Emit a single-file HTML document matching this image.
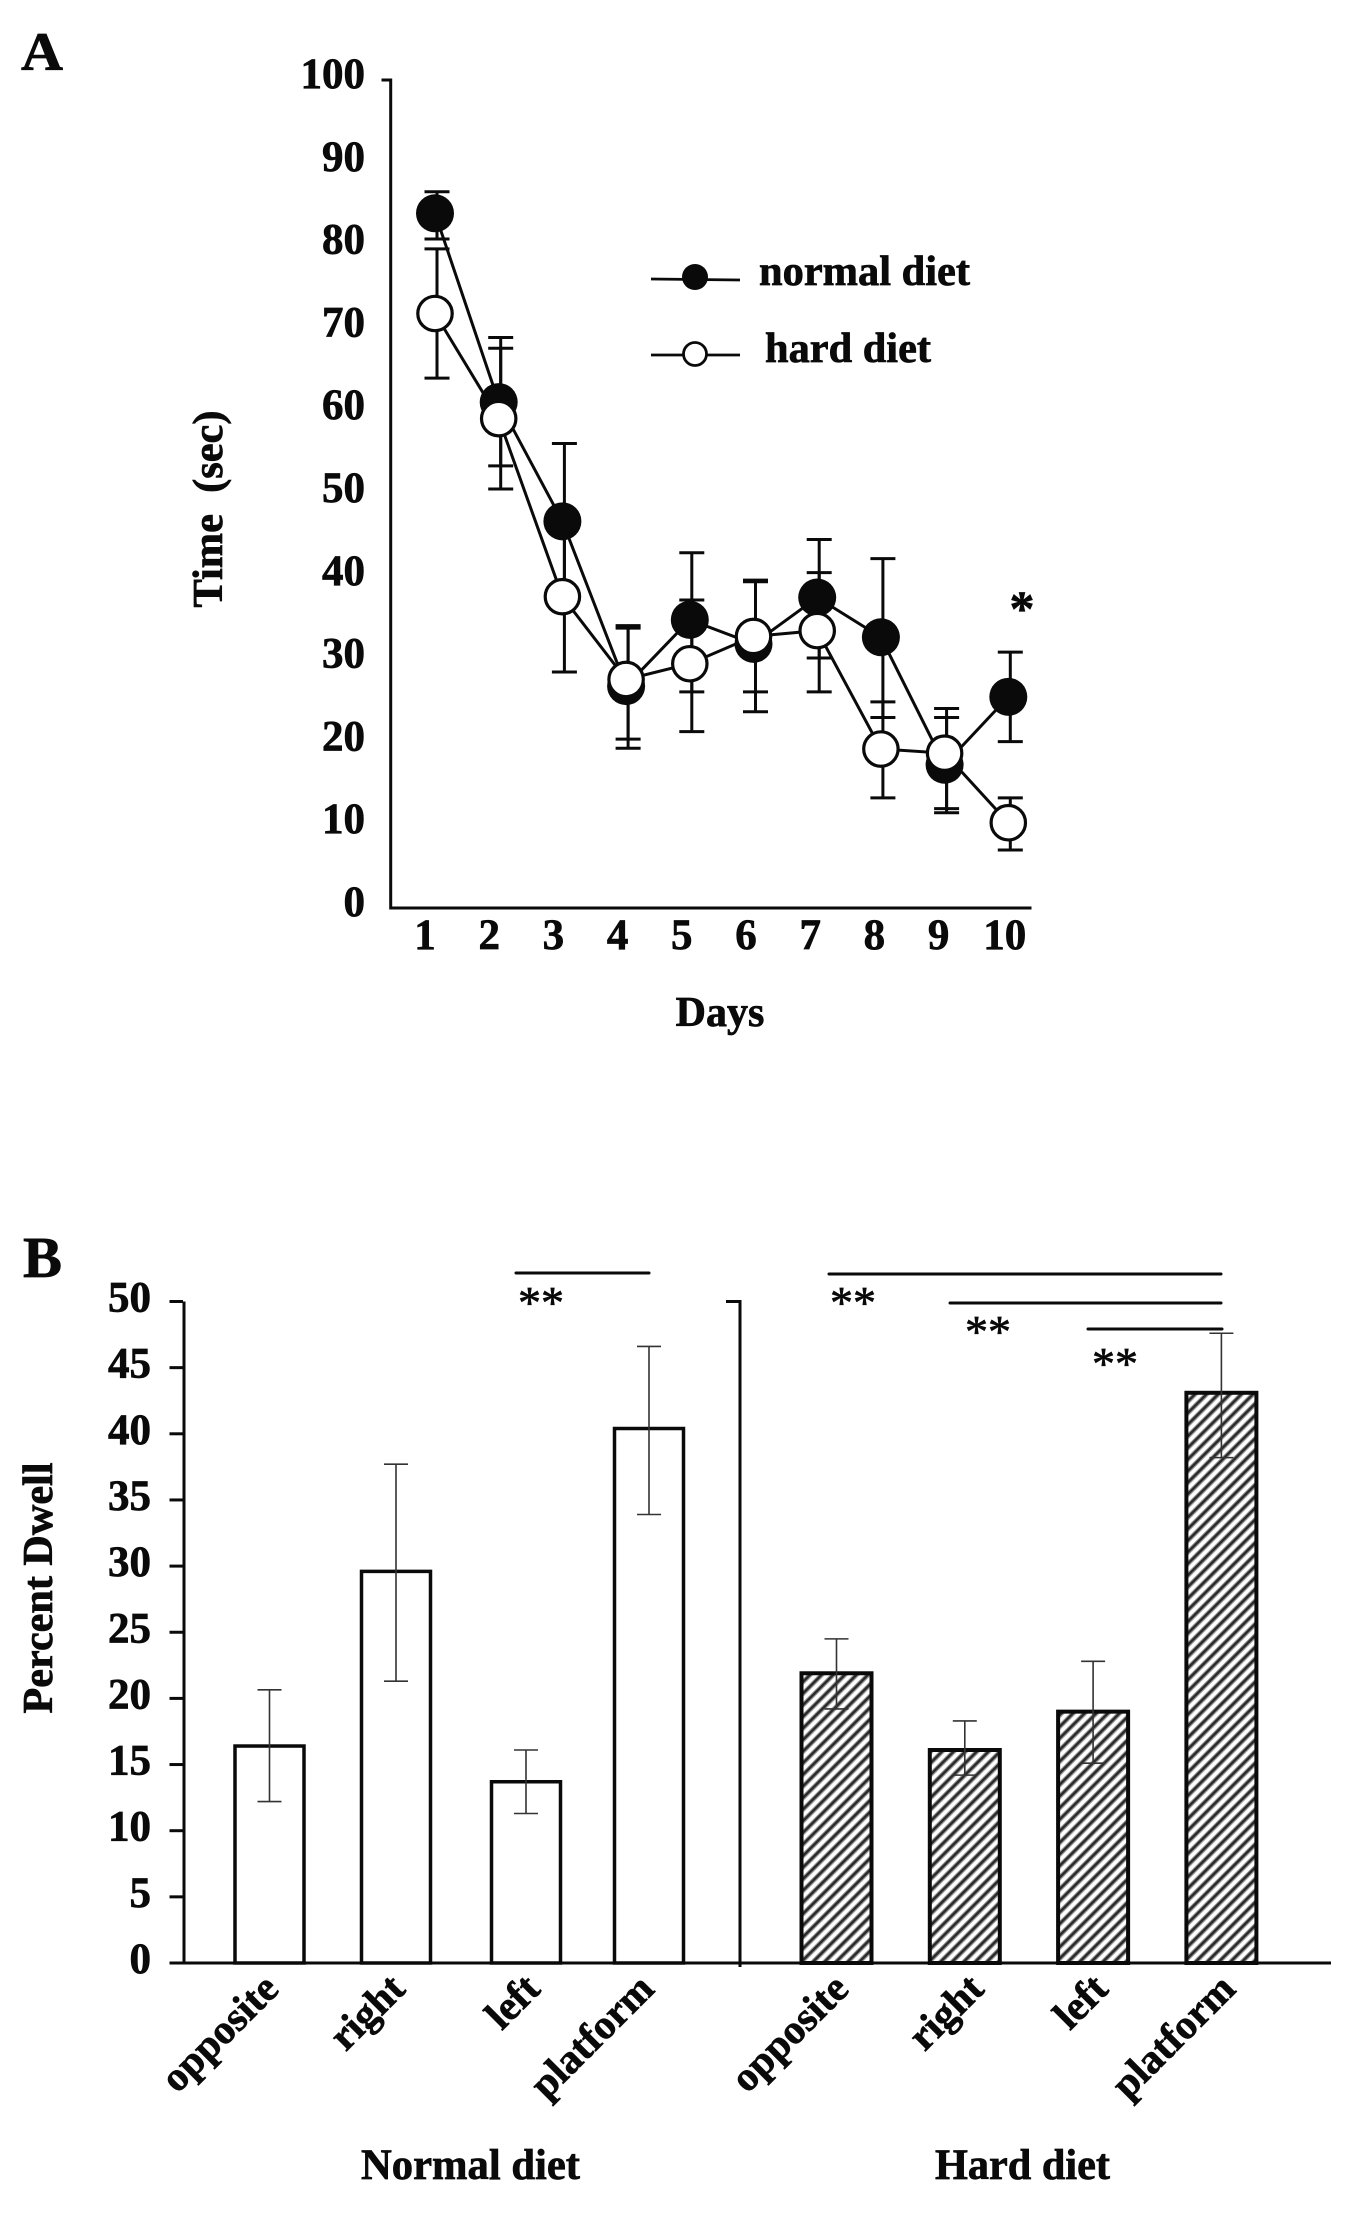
<!DOCTYPE html>
<html lang="en">
<head>
<meta charset="utf-8">
<title>Time and percent dwell, normal vs hard diet</title>
<style>
html,body{margin:0;padding:0;background:#fff;}
svg{display:block;}
text{font-family:"Liberation Serif",serif;font-weight:bold;fill:#0a0a0a;stroke:#0a0a0a;stroke-width:0.7px;}
</style>
</head>
<body>
<svg id="fig" xmlns="http://www.w3.org/2000/svg" width="1364" height="2213" viewBox="0 0 1364 2213">
  <defs>
    <pattern id="hatch" patternUnits="userSpaceOnUse" width="8.2" height="8.2" patternTransform="rotate(45)">
      <rect width="8.2" height="8.2" fill="#fff"/>
      <rect x="0" y="0" width="1" height="8.2" fill="#999"/>
      <rect x="1" y="0" width="2.7" height="8.2" fill="#2a2a2a"/>
      <rect x="3.7" y="0" width="1" height="8.2" fill="#999"/>
    </pattern>
  </defs>
  <rect width="1364" height="2213" fill="#fff"/>

  <text x="21" y="70" font-size="54" textLength="42" lengthAdjust="spacingAndGlyphs">A</text>
  <text x="23" y="1277" font-size="58" textLength="39" lengthAdjust="spacingAndGlyphs">B</text>

  <g id="panelA"></g>
  <text transform="rotate(-90 222 509)" x="222" y="509" font-size="42" text-anchor="middle" textLength="197" lengthAdjust="spacingAndGlyphs" xml:space="preserve">Time  (sec)</text>
  <text x="720" y="1026" font-size="42" text-anchor="middle">Days</text>

  <g>
    <line x1="651" y1="279" x2="740" y2="280" stroke="#0a0a0a" stroke-width="2.8"/>
    <circle cx="695" cy="277" r="13" fill="#0a0a0a"/>
    <text x="759" y="285" font-size="42" textLength="211" lengthAdjust="spacingAndGlyphs">normal diet</text>
    <line x1="651" y1="355" x2="740" y2="355" stroke="#0a0a0a" stroke-width="2.8"/>
    <circle cx="695" cy="354" r="11.5" fill="#fff" stroke="#0a0a0a" stroke-width="2.8"/>
    <text x="765" y="362" font-size="42" textLength="166" lengthAdjust="spacingAndGlyphs">hard diet</text>
  </g>
  <text x="1022" y="625" font-size="50" text-anchor="middle">*</text>

  <g id="panelB"></g>
  <text transform="rotate(-90 52 1588)" x="52" y="1588" font-size="42" text-anchor="middle" textLength="251" lengthAdjust="spacingAndGlyphs">Percent Dwell</text>
  <text x="361" y="2179" font-size="43" textLength="219" lengthAdjust="spacingAndGlyphs">Normal diet</text>
  <text x="935" y="2179" font-size="43" textLength="175" lengthAdjust="spacingAndGlyphs">Hard diet</text>

  <g>
    <line x1="519" y1="1281" x2="652" y2="1281" stroke="#0a0a0a" stroke-width="3" stroke-linecap="round" transform="translate(-3 -8)"/>
    <text x="541" y="1318" font-size="46" style="font-weight:normal" text-anchor="middle">**</text>
    <line x1="829" y1="1274" x2="1221" y2="1274" stroke="#0a0a0a" stroke-width="3" stroke-linecap="round"/>
    <text x="853" y="1318" font-size="46" style="font-weight:normal" text-anchor="middle">**</text>
    <line x1="950" y1="1303" x2="1221" y2="1303" stroke="#0a0a0a" stroke-width="3" stroke-linecap="round"/>
    <text x="988" y="1347" font-size="46" style="font-weight:normal" text-anchor="middle">**</text>
    <line x1="1088" y1="1329" x2="1222" y2="1329" stroke="#0a0a0a" stroke-width="3" stroke-linecap="round"/>
    <text x="1115" y="1379" font-size="46" style="font-weight:normal" text-anchor="middle">**</text>
  </g>
</svg>
<script>
// Panel A data
const days = [1, 2, 3, 4, 5, 6, 7, 8, 9, 10];
const timeTicks = [0, 10, 20, 30, 40, 50, 60, 70, 80, 90, 100];
const normalTime = [83.9, 61.1, 46.7, 26.8, 34.8, 31.9, 37.5, 32.7, 17.3, 25.5];
const normalTimeUpper = [86.5, 68.9, 56.1, 34.1, 42.9, 39.4, 44.5, 42.2, 23.0, 30.9];
const normalTimeLower = [80.8, 53.4, 37.3, 19.3, 26.1, 23.7, 30.2, 23.0, 11.5, 20.1];
const hardTime = [71.8, 59.1, 37.6, 27.6, 29.5, 32.8, 33.5, 19.2, 18.7, 10.3];
const hardTimeUpper = [79.6, 67.6, 46.6, 33.8, 37.2, 39.6, 40.5, 24.9, 24.1, 13.3];
const hardTimeLower = [64.0, 50.6, 28.5, 20.4, 21.3, 26.1, 26.1, 13.3, 12.0, 7.0];

// Panel B data
const quadrants = ["opposite", "right", "left", "platform"];
const dwellTicks = [0, 5, 10, 15, 20, 25, 30, 35, 40, 45, 50];
const normalDwell = [16.4, 29.6, 13.7, 40.4];
const normalDwellUpper = [20.65, 37.7, 16.1, 46.6];
const normalDwellLower = [12.2, 21.3, 11.3, 33.9];
const hardDwell = [21.9, 16.1, 19.0, 43.1];
const hardDwellUpper = [24.5, 18.3, 22.8, 47.6];
const hardDwellLower = [19.2, 14.2, 15.1, 38.2];

const NS = "http://www.w3.org/2000/svg";
const INK = "#0a0a0a";

function mk(parent, tag, attrs, txt) {
  const el = document.createElementNS(NS, tag);
  for (const k in attrs) el.setAttribute(k, attrs[k]);
  if (txt !== undefined) el.textContent = txt;
  parent.appendChild(el);
  return el;
}

/* ---------- Panel A ---------- */
const gA = document.getElementById("panelA");
const xA = d => 435 + (d - 1) * 63.7;
const yA = v => 908 - v * 8.28;
const xALabel = d => 425 + (d - 1) * 64.2 + (d === 10 ? 2 : 0);

let axisA = mk(gA, "path", {
  d: "M381.5 " + yA(100) + "H390.7V" + yA(0) + "H1031.5",
  fill: "none", stroke: INK, "stroke-width": 3
});



timeTicks.forEach(t => {
  const el = mk(gA, "text", { x: 365, y: yA(t) + 8, "font-size": 43, "text-anchor": "end" }, String(t));
  
  
});
days.forEach(d => {
  const el = mk(gA, "text", { x: xALabel(d), y: 949, "font-size": 43, "text-anchor": "middle" }, String(d));
  
  
});

function drawSeries(name, means, upper, lower, filled) {
  const g = mk(gA, "g", {});
  
  
  days.forEach((d, i) => {
    const x = xA(d) + 2;
    const cap = 12.5;
    const err = mk(g, "path", {
      d: "M" + x + " " + yA(upper[i]) + "V" + yA(lower[i]) +
         "M" + (x - cap) + " " + yA(upper[i]) + "h" + (2 * cap) +
         "M" + (x - cap) + " " + yA(lower[i]) + "h" + (2 * cap),
      fill: "none", stroke: INK, "stroke-width": 3
    });
    
    
  });
  const line = mk(g, "polyline", {
    points: days.map((d, i) => xA(d) + "," + yA(means[i])).join(" "),
    fill: "none", stroke: INK, "stroke-width": 3
  });
  
  
  days.forEach((d, i) => {
    const c = mk(g, "circle", filled
      ? { cx: xA(d), cy: yA(means[i]), r: 19, fill: INK }
      : { cx: xA(d), cy: yA(means[i]), r: 17.2, fill: "#fff", stroke: INK, "stroke-width": 3.2 });
    
    
  });
}
drawSeries("normal-diet", normalTime, normalTimeUpper, normalTimeLower, true);
drawSeries("hard-diet", hardTime, hardTimeUpper, hardTimeLower, false);

/* ---------- Panel B ---------- */
const gB = document.getElementById("panelB");
const yB = v => 1963 - v * 13.23;
const xNormal = i => 269.5 + i * 126.5 + (i === 2 ? 3.5 : 0);
const xHard = i => 836.5 + i * 128.3;

let axisB = mk(gB, "path", {
  d: "M184 " + yB(50) + "V" + yB(0) + "M170 " + yB(0) + "H1331",
  fill: "none", stroke: INK, "stroke-width": 3
});



let axisB2 = mk(gB, "path", {
  d: "M726 " + yB(50) + "H740V" + (yB(0) + 4),
  fill: "none", stroke: INK, "stroke-width": 3
});



dwellTicks.forEach(t => {
  const tick = mk(gB, "line", { x1: 169.5, x2: 183, y1: yB(t), y2: yB(t), stroke: INK, "stroke-width": 3 });
  
  
  const el = mk(gB, "text", { x: 151, y: yB(t) + 10, "font-size": 43, "text-anchor": "end" }, String(t));
  
  
});

function drawBars(name, xf, vals, upper, lower, fill, bw, sw, labelDx) {
  quadrants.forEach((q, i) => {
    const cx = xf(i);
    const bar = mk(gB, "rect", {
      x: cx - bw / 2, y: yB(vals[i]), width: bw, height: yB(0) - yB(vals[i]),
      fill: fill, stroke: INK, "stroke-width": sw
    });
    
    
    const err = mk(gB, "path", {
      d: "M" + cx + " " + yB(upper[i]) + "V" + yB(lower[i]) +
         "M" + (cx - 12) + " " + yB(upper[i]) + "h24" +
         "M" + (cx - 12) + " " + yB(lower[i]) + "h24",
      fill: "none", stroke: "#333", "stroke-width": 1.6
    });
    
    
    const lx = cx + labelDx(i), ly = 1991;
    const lab = mk(gB, "text", {
      x: lx, y: ly, "font-size": 41, "text-anchor": "end",
      transform: "rotate(-45 " + lx + " " + ly + ")"
    }, q);
    
    
  });
}
drawBars("normal", xNormal, normalDwell, normalDwellUpper, normalDwellLower, "#fff", 69, 3.5,
  i => 11 + (i === 2 ? 5 : i === 3 ? -4 : 0));
drawBars("hard", xHard, hardDwell, hardDwellUpper, hardDwellLower, "url(#hatch)", 70, 4,
  i => 14 + (i === 1 ? 7 : i === 2 ? 3 : i === 3 ? 2 : 0));
</script>
</body>
</html>
